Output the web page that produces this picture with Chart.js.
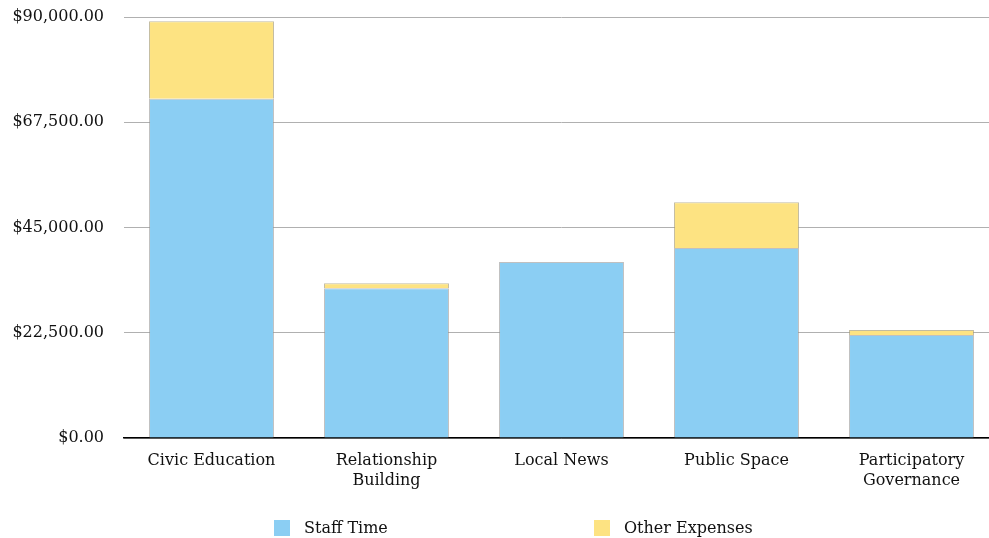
<!DOCTYPE html>
<html>
<head>
<meta charset="utf-8">
<script src="https://cdn.jsdelivr.net/npm/chart.js@4/dist/chart.umd.min.js"></script>
<style>
  html, body { margin: 0; padding: 0; background: #fff; overflow: hidden; }
  #wrap { position: relative; width: 999px; height: 538px; }
  .legend-item { position: absolute; top: 518px; font: 16px "DejaVu Serif", serif; color: #111; line-height: 20px; }
  .legend-item span.box { position: absolute; left: 0; top: 2px; width: 16px; height: 16px; }
  .legend-item span.txt { position: absolute; left: 30px; top: 0; white-space: nowrap; }
</style>
</head>
<body>
<div id="wrap">
  <canvas id="chart"></canvas>
  <div class="legend-item" style="left:274px"><span class="box" style="background:#8bcef3"></span><span class="txt">Staff Time</span></div>
  <div class="legend-item" style="left:594px"><span class="box" style="background:#fde382"></span><span class="txt">Other Expenses</span></div>
</div>
<script>
const categories = [
  "Civic Education",
  ["Relationship", "Building"],
  "Local News",
  "Public Space",
  ["Participatory", "Governance"]
];
const staffTime = [72500, 32000, 37600, 40600, 22000];
const otherExpenses = [16600, 1100, 0, 9800, 1100];
const yTicks = [0, 22500, 45000, 67500, 90000];

const money = v => "$" + v.toLocaleString("en-US", { minimumFractionDigits: 2, maximumFractionDigits: 2 });

Chart.defaults.font.family = '"DejaVu Serif", serif';
Chart.defaults.font.size = 16;
Chart.defaults.color = "#111";

let ctx = document.getElementById("chart");
var myChart = new Chart(ctx, {
  type: "bar",
  data: {
    labels: categories,
    datasets: [
      {
        label: "Staff Time",
        data: staffTime,
        backgroundColor: "#8bcef3",
        borderColor: "rgba(150,150,150,0.6)",
        borderWidth: 1,
        borderSkipped: "bottom"
      },
      {
        label: "Other Expenses",
        data: otherExpenses,
        backgroundColor: "#fde382",
        borderColor: "rgba(170,160,120,0.7)",
        borderWidth: 1,
        borderSkipped: "bottom"
      }
    ]
  },
  options: {
    responsive: true,
    maintainAspectRatio: false,
    animation: false,
    layout: { padding: { top: 17, right: 0, left: 0, bottom: 0 } },
    categoryPercentage: 1,
    barPercentage: 0.714,
    plugins: {
      legend: { display: false },
      tooltip: { enabled: false }
    },
    scales: {
      x: {
        stacked: true,
        grid: { display: false },
        border: { color: "#000", width: 1.5 },
        ticks: { padding: 4, maxRotation: 0, autoSkip: false, font: { lineHeight: 1.3 } },
        afterFit: scale => { scale.height = 100; scale.paddingLeft = 0; scale.paddingRight = 0; }
      },
      y: {
        stacked: true,
        min: 0,
        max: 90000,
        afterBuildTicks: scale => { scale.ticks = yTicks.map(v => ({ value: v })); },
        ticks: { callback: v => money(v), padding: 20 },
        grid: { color: "#b0b0b0", drawTicks: false },
        border: { display: false },
        afterFit: scale => { scale.width = 124; scale.paddingTop = 0; scale.paddingBottom = 0; }
      }
    }
  }
});
</script>
</body>
</html>
